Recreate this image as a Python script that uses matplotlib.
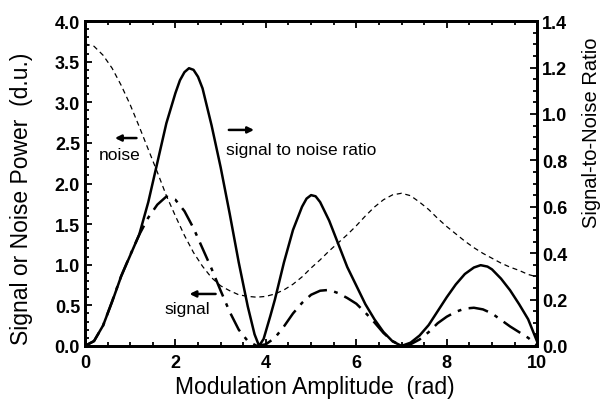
import matplotlib
matplotlib.use("Agg")
from matplotlib import pyplot as plt
from matplotlib.ticker import MultipleLocator

# valori (passo 0.2)
x_noise = [0.0, 0.2, 0.4, 0.6, 0.8, 1.0, 1.2, 1.4, 1.6, 1.8, 2.0, 2.2, 2.4, 2.6,
           2.8, 3.0, 3.2, 3.4, 3.6, 3.8, 4.0, 4.2, 4.4, 4.6, 4.8, 5.0, 5.2, 5.4,
           5.6, 5.8, 6.0, 6.2, 6.4, 6.6, 6.8, 7.0, 7.2, 7.4, 7.6, 7.8, 8.0, 8.2,
           8.4, 8.6, 8.8, 9.0, 9.2, 9.4, 9.6, 9.8, 10.0]
noise = [3.72, 3.69, 3.58, 3.42, 3.21, 2.97, 2.7, 2.42, 2.14, 1.85, 1.6, 1.36,
         1.15, 0.98, 0.84, 0.74, 0.68, 0.63, 0.61, 0.6, 0.61, 0.64, 0.69, 0.76,
         0.85, 0.96, 1.06, 1.17, 1.27, 1.37, 1.48, 1.6, 1.71, 1.8, 1.86, 1.88,
         1.85, 1.77, 1.68, 1.57, 1.47, 1.38, 1.29, 1.21, 1.14, 1.08, 1.02, 0.97,
         0.93, 0.88, 0.85]

x_sig = [0.0, 0.2, 0.4, 0.6, 0.8, 1.0, 1.2, 1.4, 1.6, 1.8, 2.0, 2.2, 2.4, 2.6,
         2.8, 3.0, 3.2, 3.4, 3.6, 3.8, 4.0, 4.2, 4.4, 4.6, 4.8, 5.0, 5.2, 5.4,
         5.6, 5.8, 6.0, 6.2, 6.4, 6.6, 6.8, 7.0, 7.2, 7.4, 7.6, 7.8, 8.0, 8.2,
         8.4, 8.6, 8.8, 9.0, 9.2, 9.4, 9.6, 9.8, 10.0]
signal = [0.0, 0.06, 0.25, 0.55, 0.86, 1.12, 1.37, 1.58, 1.74, 1.84, 1.8, 1.66,
          1.45, 1.2, 0.95, 0.68, 0.42, 0.2, 0.06, 0.0, 0.02, 0.1, 0.24, 0.4,
          0.53, 0.63, 0.68, 0.69, 0.65, 0.59, 0.52, 0.41, 0.29, 0.16, 0.06, 0.0,
          0.02, 0.08, 0.17, 0.28, 0.36, 0.42, 0.46, 0.47, 0.45, 0.4, 0.32, 0.24,
          0.17, 0.1, 0.01]

x_snr = [0.0, 0.2, 0.4, 0.6, 0.8, 1.0, 1.2, 1.4, 1.6, 1.8, 2.0, 2.1, 2.2, 2.3,
         2.4, 2.5, 2.6, 2.8, 3.0, 3.2, 3.4, 3.6, 3.75, 3.85, 3.95, 4.1, 4.2, 4.4,
         4.6, 4.8, 4.9, 5.0, 5.1, 5.2, 5.4, 5.6, 5.8, 6.0, 6.2, 6.4, 6.6, 6.8,
         7.0, 7.2, 7.4, 7.6, 7.8, 8.0, 8.2, 8.4, 8.6, 8.75, 8.9, 9.0, 9.2, 9.4,
         9.6, 9.8, 10.0]
snr = [0.0, 0.021, 0.088, 0.19, 0.30, 0.39, 0.48, 0.62, 0.79, 0.96, 1.09, 1.145,
       1.18, 1.197, 1.19, 1.16, 1.11, 0.95, 0.77, 0.57, 0.36, 0.17, 0.05, 0.0,
       0.03, 0.13, 0.2, 0.36, 0.5, 0.6, 0.635, 0.65, 0.645, 0.62, 0.54, 0.44,
       0.34, 0.26, 0.18, 0.115, 0.06, 0.02, 0.0, 0.014, 0.045, 0.09, 0.15, 0.21,
       0.265, 0.31, 0.338, 0.348, 0.342, 0.33, 0.29, 0.24, 0.18, 0.115, 0.018]

plt.rcParams['font.family'] = ['Liberation Sans', 'DejaVu Sans']

f1 = plt.figure(figsize=(6.07, 4.02), dpi=100)
ax1 = f1.add_subplot(1, 1, 1)
ax2 = ax1.twinx()

ax1.plot(x_noise, noise, color='black', lw=0.9, ls=(0, (4, 3)))
ax1.plot(x_sig, signal, color='black', lw=1.8, ls=(0, (8, 3, 1.5, 3)))
ax2.plot(x_snr, snr, color='black', lw=1.8)

ax1.set_xlim((0, 10))
ax1.set_ylim((0, 4.0))
ax2.set_ylim((0, 1.4))

ax1.xaxis.set_major_locator(MultipleLocator(2))
ax1.xaxis.set_minor_locator(MultipleLocator(0.5))
ax1.yaxis.set_major_locator(MultipleLocator(0.5))
ax1.yaxis.set_minor_locator(MultipleLocator(0.1))
ax2.yaxis.set_major_locator(MultipleLocator(0.2))
ax2.yaxis.set_minor_locator(MultipleLocator(0.05))

ax1.tick_params(which='both', direction='in', top=True, labelsize=13, width=1.3)
ax1.tick_params(which='major', length=5)
ax1.tick_params(which='minor', length=3)
ax1.tick_params(axis='x', pad=6)
ax2.tick_params(which='both', direction='in', labelsize=13, width=1.3)
ax2.tick_params(which='major', length=5)
ax2.tick_params(which='minor', length=3)

for ax in (ax1, ax2):
    for s in ax.spines.values():
        s.set_linewidth(2.0)
    for lab in ax.get_xticklabels() + ax.get_yticklabels():
        lab.set_fontweight('bold')

ax1.set_xlabel('Modulation Amplitude  (rad)', fontsize=16.5)
ax1.set_ylabel('Signal or Noise Power  (d.u.)', fontsize=16.5)
ax2.set_ylabel('Signal-to-Noise Ratio', fontsize=14.5)
ax1.xaxis.set_label_coords(0.509, -0.088)
ax1.yaxis.set_label_coords(-0.115, 0.455)
ax2.yaxis.set_label_coords(1.10, 0.66)

# etichette con frecce
ax1.text(0.77, 2.36, 'noise', fontsize=12.5, ha='center', va='center')
ax1.annotate('', xy=(0.6, 2.56), xytext=(1.2, 2.56),
             arrowprops=dict(arrowstyle='-|>', color='black', lw=1.8, mutation_scale=9))
ax1.text(3.12, 2.42, 'signal to noise ratio', fontsize=12.5, ha='left', va='center')
ax1.annotate('', xy=(3.8, 2.66), xytext=(3.12, 2.66),
             arrowprops=dict(arrowstyle='-|>', color='black', lw=1.8, mutation_scale=9))
ax1.text(2.26, 0.46, 'signal', fontsize=12.5, ha='center', va='center')
ax1.annotate('', xy=(2.25, 0.64), xytext=(2.95, 0.64),
             arrowprops=dict(arrowstyle='-|>', color='black', lw=1.8, mutation_scale=9))

f1.subplots_adjust(left=0.14, bottom=0.137, top=0.945, right=0.885)

f1.savefig('out.png', dpi=100)
